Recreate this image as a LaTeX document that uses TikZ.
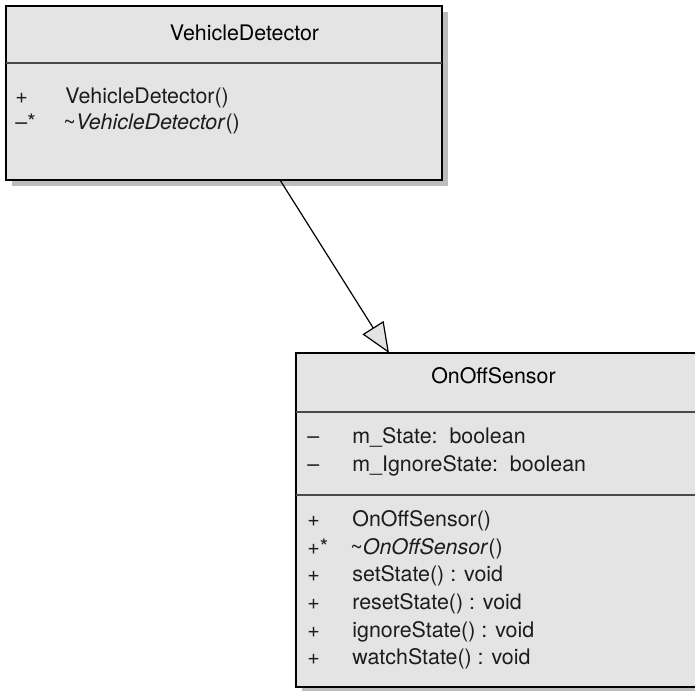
\documentclass[tikz,border=0pt]{standalone}
\usepackage{fontspec}
\setmainfont{TeX Gyre Heros}
\usetikzlibrary{arrows.meta,shadows}
\definecolor{BoxFill}{HTML}{E4E4E4}
\definecolor{Shade}{HTML}{BDBDBD}
\definecolor{Rule}{HTML}{4A4A4A}
\definecolor{Ink}{HTML}{1C1C1C}

\begin{document}
\begin{tikzpicture}[x=0.5pt,y=-0.5pt,
  classbox/.style={draw=black,line width=1.1pt,fill=BoxFill,anchor=north west,inner sep=0pt,outer sep=0pt,
    drop shadow={shadow xshift=3pt,shadow yshift=-3pt,fill=Shade,opacity=1}},
  title/.style={font=\fontsize{10.7}{12}\selectfont,text=black,anchor=base,inner sep=0pt},
  sym/.style={font=\fontsize{10.7}{12}\selectfont,text=Ink,anchor=base west,inner sep=0pt},
  member/.style={font=\fontsize{10.7}{12}\selectfont,text=Ink,anchor=base west,inner sep=0pt},
  divider/.style={draw=Rule,line width=0.7pt},
  inherit/.style={draw=black,line width=0.6pt,-{Triangle[fill=BoxFill,length=15pt,width=12.4pt]}}
]
\useasboundingbox (0,0) rectangle (695,690);

\node[classbox,minimum width=218pt,minimum height=87pt] (vd) at (6,6) {};
\node[title] (vdname) at (244.5,41) {VehicleDetector};
\draw[divider] (vd.west |- 0,63) -- (vd.east |- 0,63);
\node[sym] (vdsym1) at (15,104) {+};
\node[member] (vdop1) at (65,104) {VehicleDetector()};
\node[sym] (vdsym2) at (15,129) {--*};
\node[member] (vdop2) at (63,129) {\textasciitilde\textit{VehicleDetector}()};

\node[classbox,minimum width=202pt,minimum height=167pt] (oos) at (296,353) {};
\node[title] (oosname) at (493.5,383) {OnOffSensor};
\draw[divider] (oos.west |- 0,412) -- (oos.east |- 0,412);
\draw[divider] (oos.west |- 0,495) -- (oos.east |- 0,495);
\node[sym] (oossym1) at (307,443.5) {--};
\node[member] (oosattr1) at (352,443.5) {m\_State:\ \ boolean};
\node[sym] (oossym2) at (307,471.5) {--};
\node[member] (oosattr2) at (352,471.5) {m\_IgnoreState:\ \ boolean};
\node[sym] (oossym3) at (307,526.5) {+};
\node[member] (oosop1) at (352,526.5) {OnOffSensor()};
\node[sym] (oossym4) at (307,554.5) {+*};
\node[member] (oosop2) at (350,554.5) {\textasciitilde\textit{OnOffSensor}()};
\node[sym] (oossym5) at (307,581.5) {+};
\node[member] (oosop3) at (352,581.5) {setState() : void};
\node[sym] (oossym6) at (307,609.5) {+};
\node[member] (oosop4) at (352,609.5) {resetState() : void};
\node[sym] (oossym7) at (307,637.5) {+};
\node[member] (oosop5) at (352,637.5) {ignoreState() : void};
\node[sym] (oossym8) at (307,664.5) {+};
\node[member] (oosop6) at (352,664.5) {watchState() : void};

\coordinate (genfrom) at (vd.south west -| 280,0);
\coordinate (gento) at (oos.north west -| 389,0);
\draw[inherit] (genfrom) -- (gento);
\end{tikzpicture}
\end{document}
